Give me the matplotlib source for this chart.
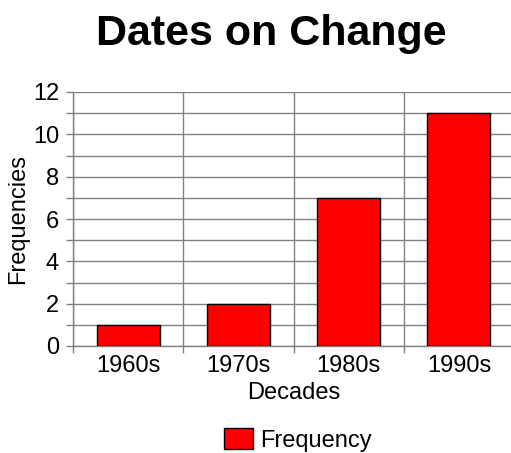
import matplotlib
matplotlib.use("Agg")
import matplotlib.pyplot as plt
from matplotlib.ticker import MultipleLocator
import numpy as np

decades = ["1960s", "1970s", "1980s", "1990s"]
frequency = [1, 2, 7, 11]

plt.rcParams['font.family'] = ['Liberation Sans', 'DejaVu Sans']

W, H = 511, 453
fig = plt.figure(figsize=(W / 100, H / 100), dpi=100)
left, right, bottom, top = 73, 514, 346, 92
ax = fig.add_axes([left / W, (H - bottom) / H, (right - left) / W, (bottom - top) / H])

x = np.arange(len(decades))
ax.bar(x + 0.5, frequency, width=0.57, color="#ff0000", edgecolor="black",
       linewidth=1, label="Frequency", zorder=3)

ax.set_xlim(0, len(decades))
ax.set_ylim(0, 12)
ax.yaxis.set_major_locator(MultipleLocator(2))
ax.yaxis.set_minor_locator(MultipleLocator(1))
ax.set_xticks(x + 0.5)
ax.set_xticklabels(decades)
ax.set_xticks(np.arange(len(decades) + 1), minor=True)

fs = 17
grid_c = "#808080"
ax.grid(True, which="both", axis="y", color=grid_c, linewidth=1, zorder=0)
ax.grid(True, which="minor", axis="x", color=grid_c, linewidth=1, zorder=0)
ax.tick_params(axis="x", which="major", length=0, labelsize=fs, pad=6.5)
ax.tick_params(axis="x", which="minor", length=5, color=grid_c, width=1)
ax.tick_params(axis="y", which="both", length=5, color=grid_c, width=1, labelsize=fs, pad=5)

for s in ["top", "right"]:
    ax.spines[s].set_visible(False)
for s in ["left", "bottom"]:
    ax.spines[s].set_color(grid_c)
    ax.spines[s].set_linewidth(1)

ax.set_xlabel("Decades", fontsize=fs, labelpad=3.5)
ax.set_ylabel("Frequencies", fontsize=fs, labelpad=3)
fig.text(271 / W, 1 - 45 / H, "Dates on Change", fontsize=31, fontweight="bold",
         ha="center", va="baseline")

fig.legend(loc="center", bbox_to_anchor=(298 / W, 1 - 440 / H), frameon=False,
           fontsize=fs, handlelength=1.2, handleheight=1.0, handletextpad=0.3)

fig.savefig("out.png", dpi=100)
